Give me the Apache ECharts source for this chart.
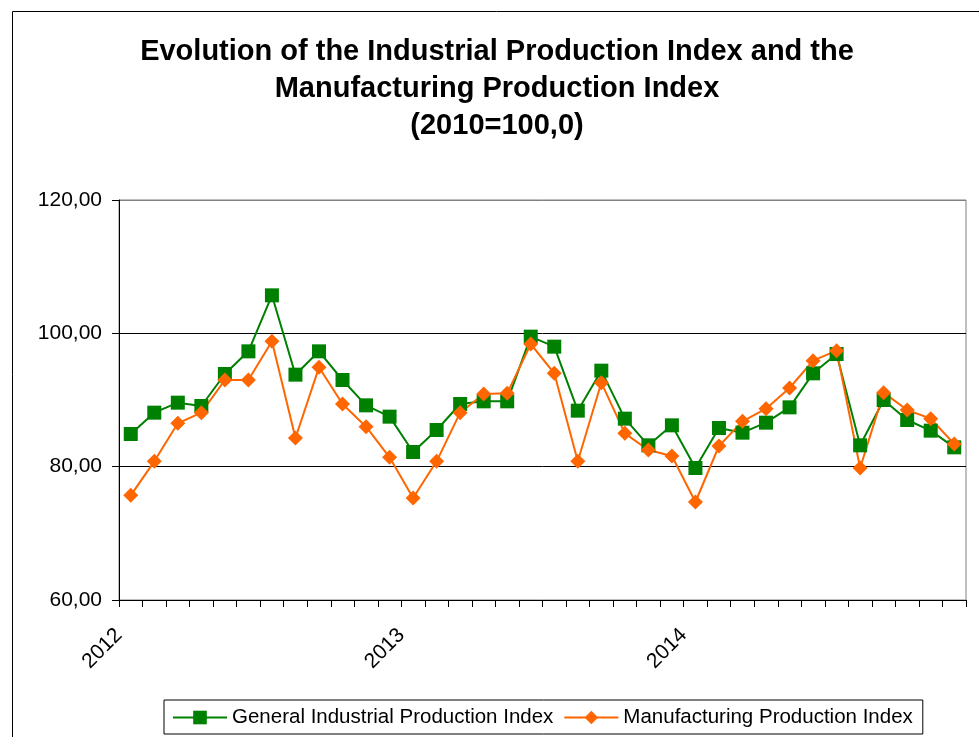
<!DOCTYPE html>
<html>
<head>
<meta charset="utf-8">
<title>Industrial Production Index</title>
<script src="https://cdn.jsdelivr.net/npm/echarts@6/dist/echarts.min.js"></script>
<style>
    html, body { margin: 0; padding: 0; background: #fff; }
    #chart { width: 979px; height: 737px; }
</style>
</head>
<body>
<div id="chart"></div>
<script>
// months Jan 2012 .. Dec 2014
var months = [
    '2012-01','2012-02','2012-03','2012-04','2012-05','2012-06','2012-07','2012-08','2012-09','2012-10','2012-11','2012-12',
    '2013-01','2013-02','2013-03','2013-04','2013-05','2013-06','2013-07','2013-08','2013-09','2013-10','2013-11','2013-12',
    '2014-01','2014-02','2014-03','2014-04','2014-05','2014-06','2014-07','2014-08','2014-09','2014-10','2014-11','2014-12'
];
var years = ['2012', '2013', '2014'];
var yTicks = [60, 80, 100, 120];

var general = [84.9, 88.1, 89.6, 89.1, 93.9, 97.3, 105.7, 93.8, 97.3, 93.0, 89.2, 87.5,
               82.2, 85.5, 89.4, 89.8, 89.8, 99.5, 98.0, 88.4, 94.4, 87.2, 83.2, 86.2,
               79.8, 85.8, 85.1, 86.6, 88.9, 94.0, 96.9, 83.2, 90.0, 87.0, 85.4, 82.9];
var manuf = [75.7, 80.8, 86.5, 88.1, 93.0, 93.0, 98.8, 84.3, 94.9, 89.4, 86.0, 81.4,
             75.3, 80.8, 88.1, 90.9, 91.0, 98.4, 94.0, 80.8, 92.6, 85.0, 82.5, 81.6,
             74.7, 83.1, 86.8, 88.7, 91.8, 95.9, 97.4, 79.8, 91.1, 88.5, 87.2, 83.4];

var myChart = echarts.init(document.getElementById('chart'));

var option = {
    backgroundColor: '#fff',
    animation: false,
    textStyle: { fontFamily: 'Liberation Sans, Arial, sans-serif' },
    title: {
        text: 'Evolution of the Industrial Production Index and the\nManufacturing Production Index\n(2010=100,0)',
        left: 497,
        top: 33,
        padding: 0,
        textAlign: 'center',
        textStyle: {
            fontSize: 29,
            fontWeight: 'bold',
            lineHeight: 37,
            color: '#000'
        }
    },
    // outer chart border
    graphic: [{
        type: 'rect',
        shape: { x: 12.5, y: 11.5, width: 1000, height: 800 },
        style: { fill: null, stroke: '#000', lineWidth: 1 },
        silent: true
    }],
    legend: {
        data: ['General Industrial Production Index', 'Manufacturing Production Index'],
        left: 164,
        top: 700,
        padding: [7, 10, 6, 8],
        itemWidth: 54,
        itemHeight: 17,
        itemGap: 10,
        borderColor: '#000',
        borderWidth: 1,
        backgroundColor: '#fff',
        textStyle: { fontSize: 20.5, color: '#000' }
    },
    grid: {
        left: 119,
        right: 13,
        top: 200,
        bottom: 137,
        show: true,
        borderColor: '#808080',
        borderWidth: 1
    },
    xAxis: [{
        type: 'category',
        data: months,
        boundaryGap: true,
        axisLine: { show: true, lineStyle: { color: '#000', width: 1 } },
        axisTick: { show: true, inside: false, interval: 0, length: 7, lineStyle: { color: '#000', width: 1 } },
        axisLabel: { show: false },
        splitLine: { show: false }
    }, {
        // year labels sit on the category boundaries
        type: 'value',
        min: 0,
        max: 36,
        interval: 12,
        position: 'bottom',
        axisLine: { show: false },
        axisTick: { show: false },
        splitLine: { show: false },
        axisLabel: {
            rotate: 45,
            margin: 32,
            fontSize: 21,
            color: '#000',
            showMaxLabel: false,
            formatter: function (v) {
                return years[v / 12] || '';
            }
        }
    }],
    yAxis: {
        type: 'value',
        min: yTicks[0],
        max: yTicks[yTicks.length - 1],
        interval: 20,
        axisLine: { show: true, lineStyle: { color: '#000' } },
        axisTick: { show: true, inside: false, length: 7, lineStyle: { color: '#000', width: 1 } },
        axisLabel: {
            fontSize: 21,
            color: '#000',
            margin: 17,
            formatter: function (v) {
                return v.toFixed(2).replace('.', ',');
            }
        },
        splitLine: {
            lineStyle: { color: ['#000', '#000', '#000', '#808080'], width: 1 }
        }
    },
    series: [{
        name: 'General Industrial Production Index',
        type: 'line',
        xAxisIndex: 0,
        data: general,
        symbol: 'rect',
        symbolSize: 14,
        lineStyle: { color: '#008000', width: 2 },
        itemStyle: { color: '#008000' }
    }, {
        name: 'Manufacturing Production Index',
        type: 'line',
        xAxisIndex: 0,
        data: manuf,
        symbol: 'diamond',
        symbolSize: 15,
        lineStyle: { color: '#FF6600', width: 2 },
        itemStyle: { color: '#FF6600' }
    }]
};

myChart.setOption(option);
</script>
</body>
</html>
